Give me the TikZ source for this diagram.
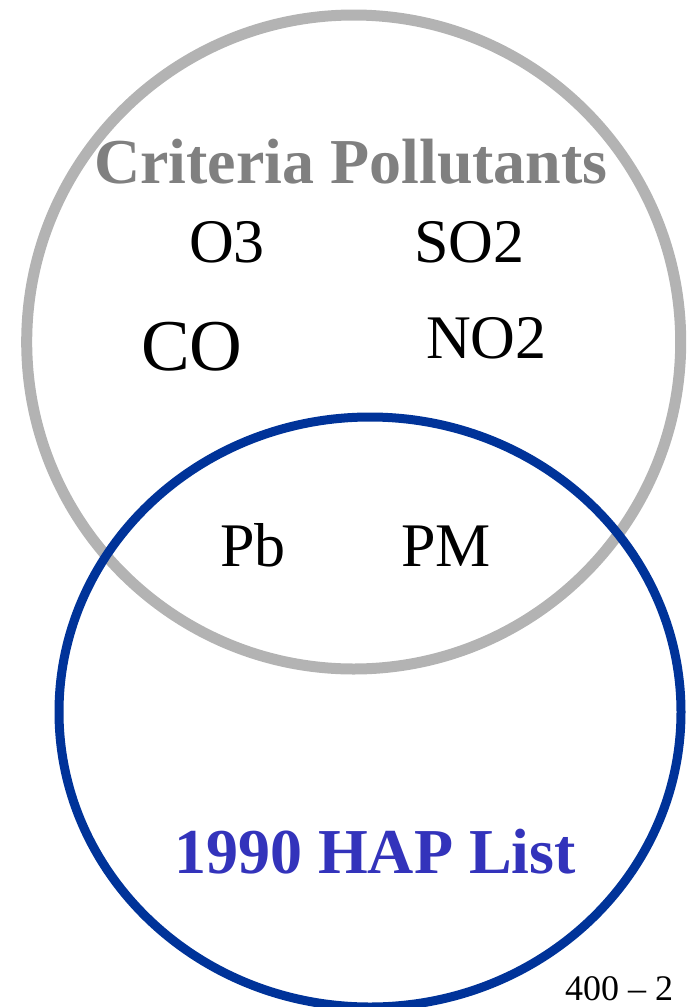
\documentclass[tikz,border=0pt]{standalone}
\usepackage{fontspec}
\setmainfont{Liberation Serif}
\definecolor{ringgray}{HTML}{B3B3B3}
\definecolor{titlegray}{HTML}{808080}
\definecolor{ringblue}{HTML}{003399}
\definecolor{titleblue}{HTML}{3333BB}
\begin{document}
\begin{tikzpicture}[x=1pt,y=-1pt,
  lbl/.style={anchor=base west,inner sep=0pt,outer sep=0pt,font=\fontsize{62}{66}\selectfont},
  big/.style={anchor=base west,inner sep=0pt,outer sep=0pt,font=\fontsize{73}{78}\selectfont},
  ttl/.style={anchor=base west,inner sep=0pt,outer sep=0pt,font=\fontsize{64}{70}\selectfont\bfseries}]
\useasboundingbox (0,0) rectangle (687,1007);
\begin{scope}
\clip (0,0) rectangle (687,1007);
\draw[ringgray,line width=11pt] (353.7,342) circle [radius=327];
\draw[ringblue,line width=9pt] (370,712) ellipse [x radius=311, y radius=295];
\end{scope}
\node[ttl,text=titlegray] (crit) at (94,183) {Criteria Pollutants};
\node[lbl] (o3) at (189,262) {O3};
\node[lbl] (so2) at (414,262) {SO2};
\node[big] (co) at (141,370) {CO};
\node[lbl] (no2) at (426,358) {NO2};
\node[lbl] (pb) at (220,566) {Pb};
\node[lbl] (pm) at (401,566) {PM};
\node[ttl,text=titleblue] (hap) at (174,873) {1990 HAP List};
\node[anchor=base west,inner sep=0pt,font=\fontsize{36}{38}\selectfont] (num) at (565,1000) {400 – 2};
\end{tikzpicture}
\end{document}
